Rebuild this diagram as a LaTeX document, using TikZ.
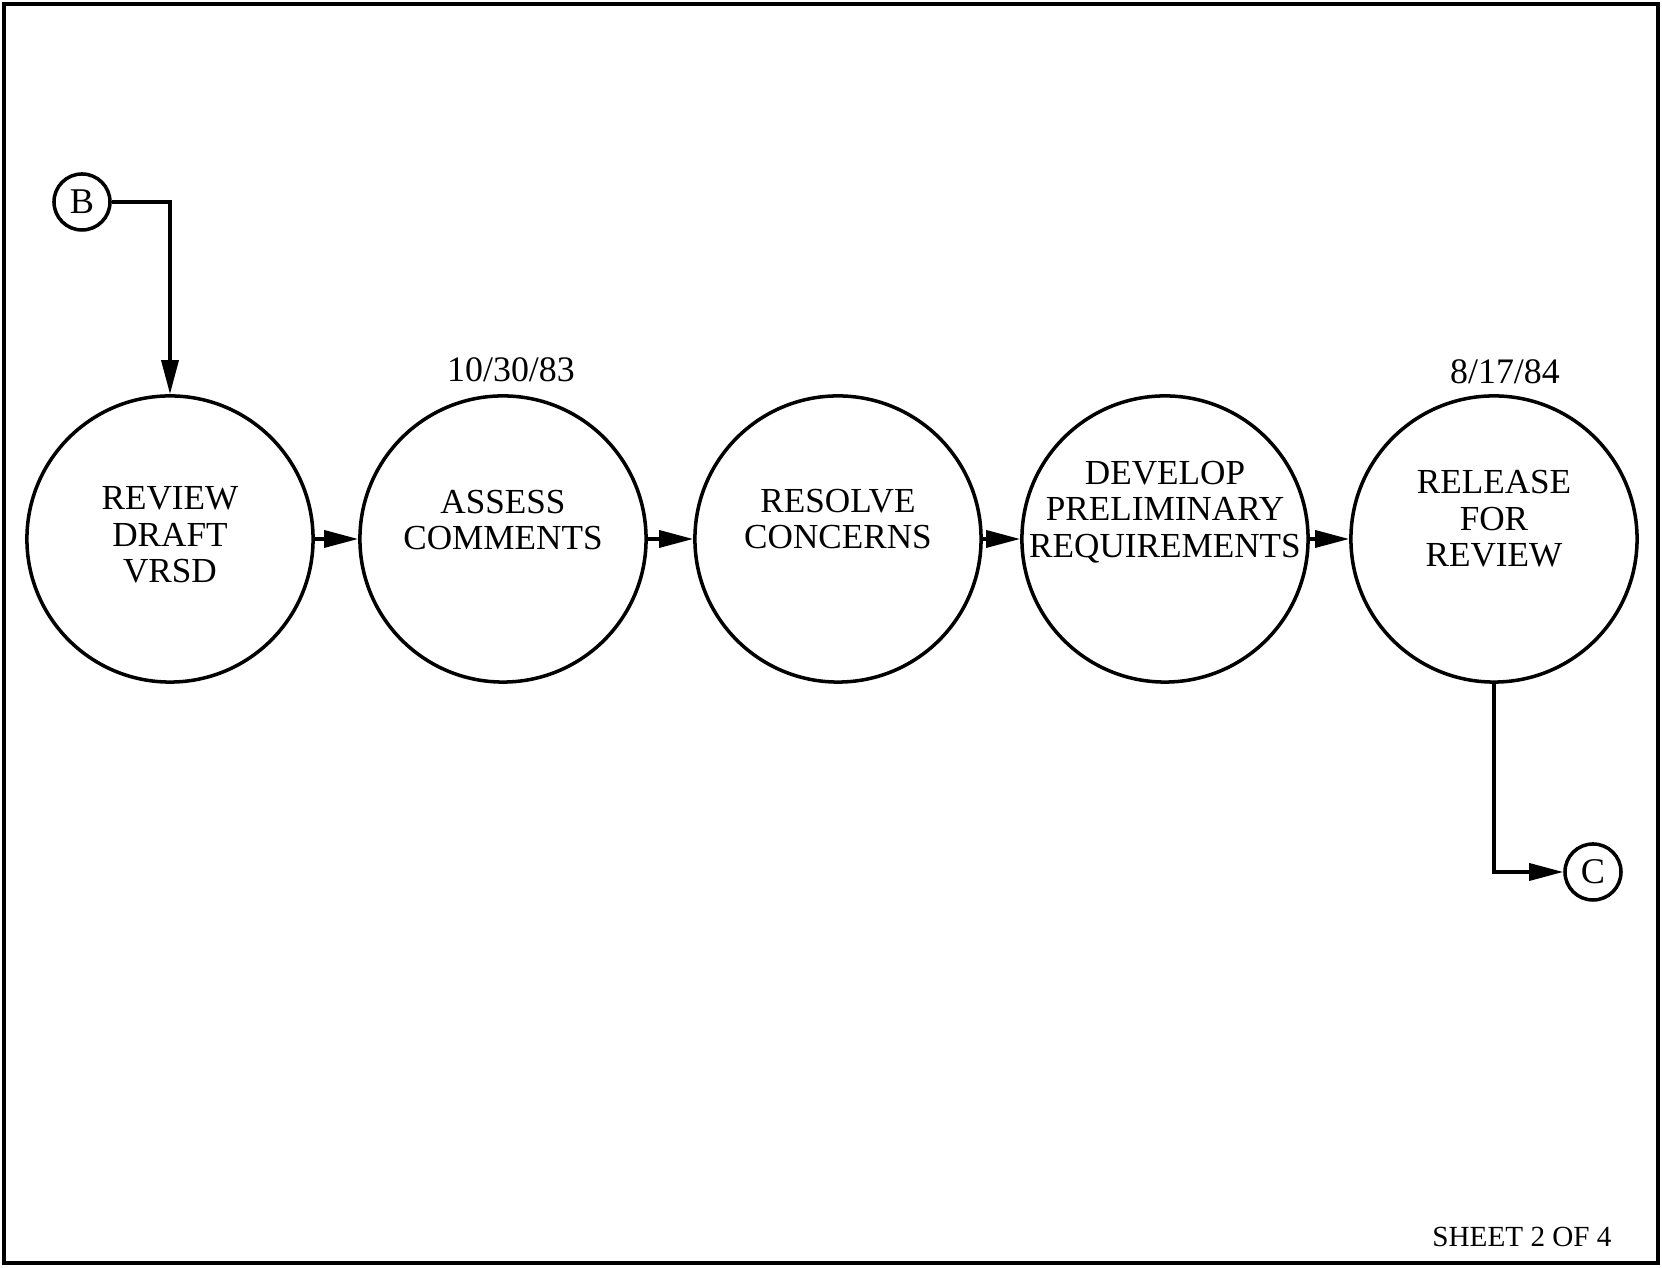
\documentclass[tikz,border=0pt]{standalone}
\usepackage{fontspec}
\setmainfont{Liberation Serif}
\usetikzlibrary{arrows.meta}
\begin{document}
\begin{tikzpicture}[x=0.01cm,y=-0.01cm,
  bubble/.style={circle,draw,line width=1pt,minimum size=2.86cm,inner sep=0pt},
  connect/.style={circle,draw,line width=1pt,minimum size=0.56cm,inner sep=0pt,font=\fontsize{10.3}{11}\selectfont},
  btext/.style={align=center,font=\fontsize{10}{10.4}\selectfont},
  datetext/.style={font=\fontsize{10.2}{11}\selectfont},
  flow/.style={line width=1pt,-{Triangle[length=3.4mm,width=1.7mm]}}]
\useasboundingbox (0,0) rectangle (1662,1268);
% sheet frame
\draw[line width=1.3pt] (4,4) rectangle (1658,1263);

% process bubbles
\node[bubble] (c1) at (170,539) {};
\node[bubble] (c2) at (503,539) {};
\node[bubble] (c3) at (838,539) {};
\node[bubble] (c4) at (1165,539) {};
\node[bubble] (c5) at (1494,539) {};

\node[btext] (t1) at (170,535) {REVIEW\\DRAFT\\VRSD};
\node[btext] (t2) at (503,520) {ASSESS\\COMMENTS};
\node[btext] (t3) at (838,519) {RESOLVE\\CONCERNS};
\node[btext] (t4) at (1165,512) {DEVELOP\\PRELIMINARY\\REQUIREMENTS};
\node[btext] (t5) at (1494,519) {RELEASE\\FOR\\REVIEW};

% milestone dates
\node[datetext] (d2) at (511,370) {10/30/83};
\node[datetext] (d5) at (1505,372) {8/17/84};

% off-sheet connectors
\node[connect] (B) at (82,202) {B};
\node[connect] (C) at (1593,872) {C};

% flow
\draw[flow] (B.east) -| (c1.north);
\draw[flow] (c1) -- (c2);
\draw[flow] (c2) -- (c3);
\draw[flow] (c3) -- (c4);
\draw[flow] (c4) -- (c5);
\draw[flow] (c5.south) |- (C.west);

% sheet number
\node[font=\fontsize{8.3}{9}\selectfont] (sheet) at (1522,1237) {SHEET 2 OF 4};
\end{tikzpicture}
\end{document}
